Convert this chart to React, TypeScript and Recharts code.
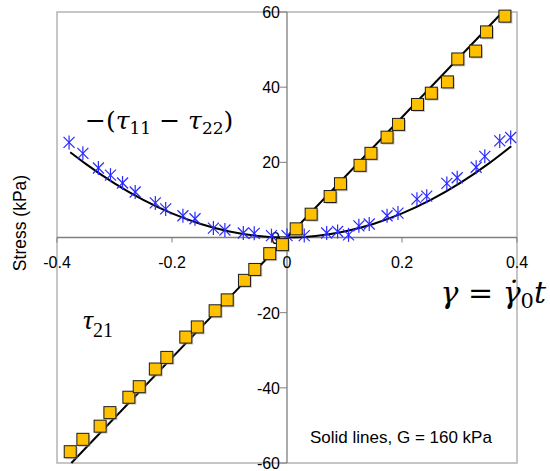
import React from "react";
import {
  ComposedChart,
  XAxis,
  YAxis,
  Line,
  Scatter,
  ReferenceLine,
  ReferenceArea,
  ReferenceDot,
} from "recharts";

// ---- Data ----
// tau_21 measured (squares)
const shearX = [
  -0.377, -0.355, -0.325, -0.308, -0.275, -0.257, -0.229, -0.209, -0.176, -0.156,
  -0.125, -0.104, -0.074, -0.056, -0.03, -0.008, 0.016, 0.042, 0.075, 0.093, 0.127,
  0.146, 0.174, 0.194, 0.227, 0.251, 0.279, 0.297, 0.328, 0.347, 0.379,
];
const shearY = [
  -57.0, -53.7, -50.2, -46.6, -42.5, -39.7, -35.0, -31.9, -26.5, -23.8,
  -19.5, -16.6, -11.4, -8.5, -4.3, -1.9, 2.3, 6.2, 10.9, 14.3, 19.2,
  22.4, 26.7, 30.1, 35.4, 38.4, 41.4, 47.5, 49.6, 54.7, 58.9,
];
// -(tau_11 - tau_22) measured (asterisks)
const normalX = [
  -0.379, -0.355, -0.328, -0.307, -0.286, -0.264, -0.229, -0.211, -0.181, -0.16,
  -0.128, -0.108, -0.076, -0.057, -0.027, 0.0, 0.03, 0.069, 0.088, 0.107, 0.125,
  0.143, 0.174, 0.193, 0.226, 0.243, 0.278, 0.296, 0.329, 0.344, 0.37, 0.389,
];
const normalY = [
  25.3, 22.4, 18.5, 16.6, 14.5, 12.1, 9.2, 7.6, 5.8, 5.0,
  2.5, 2.0, 1.2, 1.1, 0.5, 0.5, 0.5, 1.2, 1.6, 0.7, 3.1,
  3.6, 5.8, 6.5, 10.2, 11.0, 14.4, 15.9, 18.7, 21.6, 25.7, 26.6,
];
// Solid model lines (G = 160 kPa)
const shearLineX = [-0.375, 0.375];
const shearLineY = [-60, 60];
const normalLineX = [
  -0.377, -0.35, -0.3, -0.25, -0.2, -0.15, -0.1, -0.05, 0, 0.05, 0.1, 0.15, 0.2,
  0.25, 0.3, 0.35, 0.39,
];
const normalLineY = [
  22.7, 19.6, 14.4, 10.0, 6.4, 3.6, 1.6, 0.4, 0, 0.4, 1.6, 3.6, 6.4,
  10.0, 14.4, 19.6, 24.3,
];
// Tick labels
const xTicks = [-0.4, -0.2, 0, 0.2, 0.4];
const yTicks = [-60, -40, -20, 0, 20, 40, 60];

const zip = (xs: number[], ys: number[]) => xs.map((x, i) => ({ x, y: ys[i] }));
const shearData = zip(shearX, shearY);
const normalData = zip(normalX, normalY);
const shearLine = zip(shearLineX, shearLineY);
const normalLine = zip(normalLineX, normalLineY);

const FONT = "'Liberation Sans', Arial, sans-serif";
const AXIS_GRAY = "#7f7f7f";
const FRAME_GRAY = "#b4b4b4";

const SquareMark = (p: any) => {
  const { cx, cy } = p;
  if (cx == null || cy == null) return null;
  return (
    <g>
      <rect x={cx - 4.5} y={cy - 4.5} width={12} height={12} fill="#9a9a9a" opacity={0.5} />
      <rect x={cx - 6} y={cy - 6} width={12} height={12} fill="#FFC000" stroke="#1a1a1a" strokeWidth={1} />
    </g>
  );
};

const StarMark = (p: any) => {
  const { cx, cy } = p;
  if (cx == null || cy == null) return null;
  const r = 5.5;
  return (
    <g stroke="#2a2aff" strokeWidth={1.2}>
      <line x1={cx - r} y1={cy - r} x2={cx + r} y2={cy + r} />
      <line x1={cx - r} y1={cy + r} x2={cx + r} y2={cy - r} />
      <line x1={cx} y1={cy - 7} x2={cx} y2={cy + 7} />
    </g>
  );
};

const fmtX = (v: number) => (v === 0 ? "0" : v.toFixed(1));

const XTick = (label: string) => (p: any) => {
  const { cx, cy } = p;
  return (
    <g>
      <line x1={cx} y1={cy} x2={cx} y2={cy + 5} stroke={AXIS_GRAY} strokeWidth={1} />
      <text x={cx} y={cy + 30} textAnchor="middle" fontFamily={FONT} fontSize={16} fill="#000">
        {label}
      </text>
    </g>
  );
};

const YTick = (label: string) => (p: any) => {
  const { cx, cy } = p;
  return (
    <g>
      <line x1={cx - 7} y1={cy} x2={cx} y2={cy} stroke={AXIS_GRAY} strokeWidth={1} />
      <text x={cx - 7} y={cy + 6} textAnchor="end" fontFamily={FONT} fontSize={16} fill="#000">
        {label}
      </text>
    </g>
  );
};

export default function App() {
  return (
    <div style={{ position: "absolute", left: 0, top: 0, width: 550, height: 471, background: "#fff" }}>
      <ComposedChart
        width={550}
        height={471}
        margin={{ top: 12, right: 33, bottom: 8, left: 57 }}
      >
        <XAxis type="number" dataKey="x" domain={[-0.4, 0.4]} hide />
        <YAxis type="number" dataKey="y" domain={[-60, 60]} hide />
        <ReferenceArea x1={-0.4} x2={0.4} y1={-60} y2={60} fill="none" fillOpacity={0} stroke={FRAME_GRAY} strokeWidth={1.5} />
        <ReferenceLine x={0} stroke={AXIS_GRAY} strokeWidth={1.3} />
        <ReferenceLine y={0} stroke={AXIS_GRAY} strokeWidth={1.3} />
        {xTicks.map((v) => (
          <ReferenceDot key={"xt" + v} x={v} y={0} r={0} shape={XTick(fmtX(v))} />
        ))}
        {yTicks.map((v) => (
          <ReferenceDot key={"yt" + v} x={0} y={v} r={0} shape={YTick(String(v))} />
        ))}
        <Line data={normalLine} dataKey="y" type="monotone" stroke="#000" strokeWidth={2} dot={false} isAnimationActive={false} />
        <Line data={shearLine} dataKey="y" type="linear" stroke="#000" strokeWidth={2} dot={false} isAnimationActive={false} />
        <Scatter data={normalData} dataKey="y" shape={StarMark} isAnimationActive={false} />
        <Scatter data={shearData} dataKey="y" shape={SquareMark} isAnimationActive={false} />
      </ComposedChart>
      <svg
        width={550}
        height={471}
        style={{ position: "absolute", left: 0, top: 0, pointerEvents: "none" }}
      >
        <text
          x={26}
          y={223}
          transform="rotate(-90, 26, 223)"
          textAnchor="middle"
          fontFamily={FONT}
          fontSize={17.5}
          fill="#000"
        >
          Stress (kPa)
        </text>
        <text x={85} y={129} fontFamily="'DejaVu Serif', serif" fontSize={25} fill="#000">
          −(<tspan fontStyle="italic">τ</tspan>
          <tspan fontSize={17} dy={5}>11</tspan>
          <tspan dy={-5}> − </tspan>
          <tspan fontStyle="italic">τ</tspan>
          <tspan fontSize={17} dy={5}>22</tspan>
          <tspan dy={-5}>)</tspan>
        </text>
        <text x={83} y={329} fontFamily="'Liberation Serif', serif" fontSize={28} fill="#000">
          <tspan fontStyle="italic">τ</tspan>
          <tspan fontSize={20} dy={8}>21</tspan>
        </text>
        <text x={546} y={303} textAnchor="end" fontFamily="'DejaVu Serif', serif" fontSize={30} fill="#000">
          <tspan fontStyle="italic">γ</tspan>
          <tspan> = </tspan>
          <tspan fontStyle="italic">γ̇</tspan>
          <tspan fontSize={21} dy={5}>0</tspan>
          <tspan dy={-5} fontStyle="italic">t</tspan>
        </text>
        <text x={310} y={443} fontFamily={FONT} fontSize={17} fill="#000">
          Solid lines, G = 160 kPa
        </text>
      </svg>
    </div>
  );
}
